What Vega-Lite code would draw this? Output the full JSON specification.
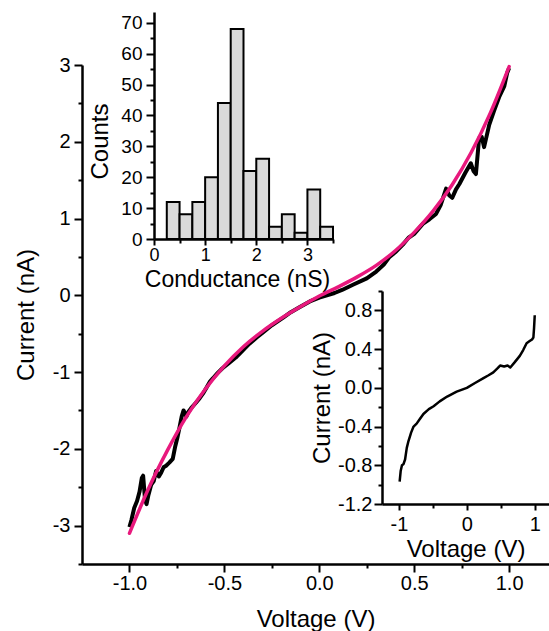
{
  "$schema": "https://vega.github.io/schema/vega-lite/v6.json",
  "width": 467,
  "height": 499,
  "autosize": {"type": "none"},
  "padding": {"left": 82, "top": 65, "right": 0, "bottom": 67},
  "background": "white",
  "config": {
    "view": {"stroke": null},
    "font": "Liberation Sans",
    "axis": {
      "grid": false,
      "domainColor": "black",
      "domainWidth": 2.5,
      "tickColor": "black",
      "tickWidth": 2,
      "labelColor": "black",
      "titleColor": "black",
      "labelFont": "Liberation Sans",
      "titleFont": "Liberation Sans",
      "titleFontWeight": "normal",
      "labelFontSize": 20,
      "titleFontSize": 24,
      "labelOverlap": false,
      "labelFlush": false,
      "labelBound": false
    }
  },
  "datasets": {
    "iv": [
      {"V": -1.0, "I": -3.02}, {"V": -0.99, "I": -2.93}, {"V": -0.975, "I": -2.77}, {"V": -0.96, "I": -2.68},
      {"V": -0.947, "I": -2.56}, {"V": -0.935, "I": -2.38}, {"V": -0.928, "I": -2.35}, {"V": -0.918, "I": -2.66},
      {"V": -0.91, "I": -2.72}, {"V": -0.9, "I": -2.6}, {"V": -0.886, "I": -2.47}, {"V": -0.872, "I": -2.42},
      {"V": -0.86, "I": -2.29}, {"V": -0.845, "I": -2.36}, {"V": -0.833, "I": -2.31}, {"V": -0.82, "I": -2.24},
      {"V": -0.807, "I": -2.22}, {"V": -0.79, "I": -2.18}, {"V": -0.772, "I": -2.13}, {"V": -0.76, "I": -1.98},
      {"V": -0.748, "I": -1.86}, {"V": -0.737, "I": -1.73}, {"V": -0.725, "I": -1.58}, {"V": -0.715, "I": -1.5},
      {"V": -0.7, "I": -1.58}, {"V": -0.69, "I": -1.52}, {"V": -0.675, "I": -1.47}, {"V": -0.65, "I": -1.4},
      {"V": -0.63, "I": -1.34}, {"V": -0.61, "I": -1.27}, {"V": -0.596, "I": -1.21}, {"V": -0.575, "I": -1.12},
      {"V": -0.56, "I": -1.08}, {"V": -0.535, "I": -1.01}, {"V": -0.51, "I": -0.95}, {"V": -0.475, "I": -0.88},
      {"V": -0.44, "I": -0.81}, {"V": -0.4, "I": -0.71}, {"V": -0.368, "I": -0.63}, {"V": -0.33, "I": -0.55},
      {"V": -0.3, "I": -0.49}, {"V": -0.25, "I": -0.39}, {"V": -0.19, "I": -0.29}, {"V": -0.15, "I": -0.22},
      {"V": -0.1, "I": -0.15}, {"V": -0.05, "I": -0.08}, {"V": 0.0, "I": -0.03}, {"V": 0.04, "I": 0.0},
      {"V": 0.08, "I": 0.03}, {"V": 0.12, "I": 0.07}, {"V": 0.18, "I": 0.14}, {"V": 0.25, "I": 0.22},
      {"V": 0.3, "I": 0.31}, {"V": 0.34, "I": 0.4}, {"V": 0.37, "I": 0.5}, {"V": 0.4, "I": 0.56},
      {"V": 0.44, "I": 0.66}, {"V": 0.47, "I": 0.75}, {"V": 0.5, "I": 0.8}, {"V": 0.545, "I": 0.93},
      {"V": 0.58, "I": 0.99}, {"V": 0.615, "I": 1.06}, {"V": 0.64, "I": 1.18}, {"V": 0.668, "I": 1.39},
      {"V": 0.685, "I": 1.3}, {"V": 0.7, "I": 1.27}, {"V": 0.72, "I": 1.38}, {"V": 0.738, "I": 1.45},
      {"V": 0.77, "I": 1.6}, {"V": 0.798, "I": 1.72}, {"V": 0.812, "I": 1.62}, {"V": 0.825, "I": 1.58},
      {"V": 0.842, "I": 2.05}, {"V": 0.856, "I": 2.06}, {"V": 0.868, "I": 1.93}, {"V": 0.882, "I": 2.08},
      {"V": 0.895, "I": 2.22}, {"V": 0.92, "I": 2.4}, {"V": 0.947, "I": 2.58}, {"V": 0.974, "I": 2.72},
      {"V": 0.99, "I": 2.9}, {"V": 1.0, "I": 2.96}
    ],
    "fit": [
      {"V": -1.0, "I": -3.1}, {"V": -0.9, "I": -2.52}, {"V": -0.8, "I": -2.02}, {"V": -0.7, "I": -1.58},
      {"V": -0.6, "I": -1.22}, {"V": -0.5, "I": -0.92}, {"V": -0.4, "I": -0.67}, {"V": -0.3, "I": -0.47},
      {"V": -0.2, "I": -0.3}, {"V": -0.1, "I": -0.15}, {"V": 0.0, "I": -0.01}, {"V": 0.1, "I": 0.11},
      {"V": 0.2, "I": 0.24}, {"V": 0.3, "I": 0.39}, {"V": 0.4, "I": 0.58}, {"V": 0.5, "I": 0.82},
      {"V": 0.6, "I": 1.1}, {"V": 0.7, "I": 1.44}, {"V": 0.8, "I": 1.86}, {"V": 0.9, "I": 2.37},
      {"V": 1.0, "I": 2.98}
    ],
    "hist": [
      {"g0": 0.25, "g1": 0.5, "n": 12}, {"g0": 0.5, "g1": 0.75, "n": 8}, {"g0": 0.75, "g1": 1.0, "n": 12},
      {"g0": 1.0, "g1": 1.25, "n": 20}, {"g0": 1.25, "g1": 1.5, "n": 44}, {"g0": 1.5, "g1": 1.75, "n": 68},
      {"g0": 1.75, "g1": 2.0, "n": 22}, {"g0": 2.0, "g1": 2.25, "n": 26}, {"g0": 2.25, "g1": 2.5, "n": 4},
      {"g0": 2.5, "g1": 2.75, "n": 8}, {"g0": 2.75, "g1": 3.0, "n": 2}, {"g0": 3.0, "g1": 3.25, "n": 16},
      {"g0": 3.25, "g1": 3.5, "n": 4}
    ],
    "inset": [
      {"V": -0.99, "I": -0.97}, {"V": -0.975, "I": -0.86}, {"V": -0.956, "I": -0.8}, {"V": -0.935, "I": -0.79},
      {"V": -0.91, "I": -0.74}, {"V": -0.885, "I": -0.62}, {"V": -0.86, "I": -0.55}, {"V": -0.82, "I": -0.46},
      {"V": -0.785, "I": -0.4}, {"V": -0.74, "I": -0.37}, {"V": -0.69, "I": -0.32}, {"V": -0.64, "I": -0.27},
      {"V": -0.56, "I": -0.22}, {"V": -0.49, "I": -0.19}, {"V": -0.4, "I": -0.14}, {"V": -0.29, "I": -0.09},
      {"V": -0.15, "I": -0.04}, {"V": 0.0, "I": 0.0}, {"V": 0.12, "I": 0.05}, {"V": 0.245, "I": 0.1},
      {"V": 0.32, "I": 0.13}, {"V": 0.39, "I": 0.16}, {"V": 0.45, "I": 0.2}, {"V": 0.49, "I": 0.23},
      {"V": 0.55, "I": 0.22}, {"V": 0.6, "I": 0.23}, {"V": 0.64, "I": 0.21}, {"V": 0.7, "I": 0.26},
      {"V": 0.78, "I": 0.33}, {"V": 0.83, "I": 0.39}, {"V": 0.88, "I": 0.46}, {"V": 0.92, "I": 0.48},
      {"V": 0.96, "I": 0.5}, {"V": 0.98, "I": 0.52}, {"V": 0.99, "I": 0.62}, {"V": 1.0, "I": 0.75}
    ]
  },
  "layer": [
    {
      "encoding": {
        "x": {
          "field": "V", "type": "quantitative",
          "scale": {"domain": [-1.25, 1.21], "nice": false, "zero": false},
          "axis": {
            "orient": "bottom",
            "title": "Voltage (V)",
            "values": [-1, -0.75, -0.5, -0.25, 0, 0.25, 0.5, 0.75, 1],
            "labelExpr": "abs(datum.value*2 - round(datum.value*2)) < 0.000001 ? replace(format(datum.value, '.1f'), '\u2212', '-') : ''",
            "tickSize": {"condition": {"test": "abs(datum.value*2 - round(datum.value*2)) > 0.000001", "value": 4}, "value": 8},
            "labelPadding": 1,
            "titlePadding": 14
          }
        },
        "y": {
          "field": "I", "type": "quantitative",
          "scale": {"domain": [-3.5, 3], "nice": false, "zero": false},
          "axis": {
            "orient": "left",
            "title": "Current (nA)",
            "values": [-3.5, -3, -2.5, -2, -1.5, -1, -0.5, 0, 0.5, 1, 1.5, 2, 2.5, 3],
            "labelExpr": "abs(datum.value*1 - round(datum.value*1)) < 0.000001 ? replace(format(datum.value, '.0f'), '\u2212', '-') : ''",
            "tickSize": {"condition": {"test": "abs(datum.value*1 - round(datum.value*1)) > 0.000001", "value": 4}, "value": 8},
            "labelPadding": 4,
            "titlePadding": 14
          }
        }
      },
      "layer": [
        {
          "data": {"name": "iv"},
          "mark": {"type": "line", "color": "black", "strokeWidth": 4, "strokeJoin": "round"}
        },
        {
          "data": {"name": "fit"},
          "mark": {"type": "line", "color": "#e8197d", "strokeWidth": 3.5, "interpolate": "monotone", "strokeCap": "round"}
        }
      ]
    },
    {
      "data": {"name": "hist"},
      "mark": {"type": "rect", "fill": "#dadada", "stroke": "black", "strokeWidth": 2},
      "encoding": {
        "x": {
          "field": "g0", "type": "quantitative",
          "scale": {"domain": [0, 3.5], "range": [72, 251], "nice": false, "zero": false},
          "axis": {
            "orient": "bottom",
            "offset": -325,
            "title": "Conductance (nS)",
            "titleX": 155,
            "titleFontSize": 23,
            "values": [0, 0.5, 1, 1.5, 2, 2.5, 3, 3.5],
            "labelExpr": "abs(datum.value - round(datum.value)) < 0.000001 ? format(datum.value, 'd') : ''",
            "tickSize": {"condition": {"test": "abs(datum.value - round(datum.value)) > 0.000001", "value": 4}, "value": 6},
            "labelFontSize": 18,
            "labelPadding": 1,
            "titlePadding": 4
          }
        },
        "x2": {"field": "g1"},
        "y": {
          "field": "n", "type": "quantitative",
          "scale": {"domain": [0, 73.5], "range": [174, -53], "nice": false, "zero": true},
          "axis": {
            "orient": "left",
            "offset": -72,
            "title": "Counts",
            "titleY": 76,
            "values": [0, 5, 10, 15, 20, 25, 30, 35, 40, 45, 50, 55, 60, 65, 70],
            "labelExpr": "datum.value % 10 === 0 ? format(datum.value, 'd') : ''",
            "tickSize": {"condition": {"test": "datum.value % 10 !== 0", "value": 4}, "value": 8},
            "labelFontSize": 19,
            "labelPadding": 4,
            "titlePadding": 8
          }
        },
        "y2": {"datum": 0}
      }
    },
    {
      "data": {"name": "inset"},
      "mark": {"type": "line", "color": "black", "strokeWidth": 2.5, "strokeJoin": "round"},
      "encoding": {
        "x": {
          "field": "V", "type": "quantitative",
          "scale": {"domain": [-1.25, 1.21], "range": [300, 467], "nice": false, "zero": false},
          "axis": {
            "orient": "bottom",
            "offset": -60,
            "title": "Voltage (V)",
            "values": [-1, -0.5, 0, 0.5, 1],
            "labelExpr": "abs(datum.value - round(datum.value)) < 0.000001 ? replace(format(datum.value, 'd'), '\u2212', '-') : ''",
            "tickSize": {"condition": {"test": "abs(datum.value - round(datum.value)) > 0.000001", "value": 4}, "value": 6},
            "labelPadding": 4,
            "titlePadding": 3
          }
        },
        "y": {
          "field": "I", "type": "quantitative",
          "scale": {"domain": [-1.2, 1.0], "range": [439, 226], "nice": false, "zero": false},
          "axis": {
            "orient": "left",
            "offset": -300,
            "title": "Current (nA)",
            "values": [-1.2, -1.0, -0.8, -0.6, -0.4, -0.2, 0, 0.2, 0.4, 0.6, 0.8, 1.0],
            "labelExpr": "abs(datum.value*2.5 - round(datum.value*2.5)) < 0.000001 && datum.value < 0.95 ? replace(format(datum.value, '.1f'), '\u2212', '-') : ''",
            "tickSize": {"condition": {"test": "abs(datum.value*2.5 - round(datum.value*2.5)) > 0.000001 || datum.value > 0.95", "value": 4}, "value": 8},
            "labelPadding": 2,
            "titlePadding": 3
          }
        }
      }
    }
  ],
  "resolve": {
    "scale": {"x": "independent", "y": "independent"},
    "axis": {"x": "independent", "y": "independent"}
  }
}
